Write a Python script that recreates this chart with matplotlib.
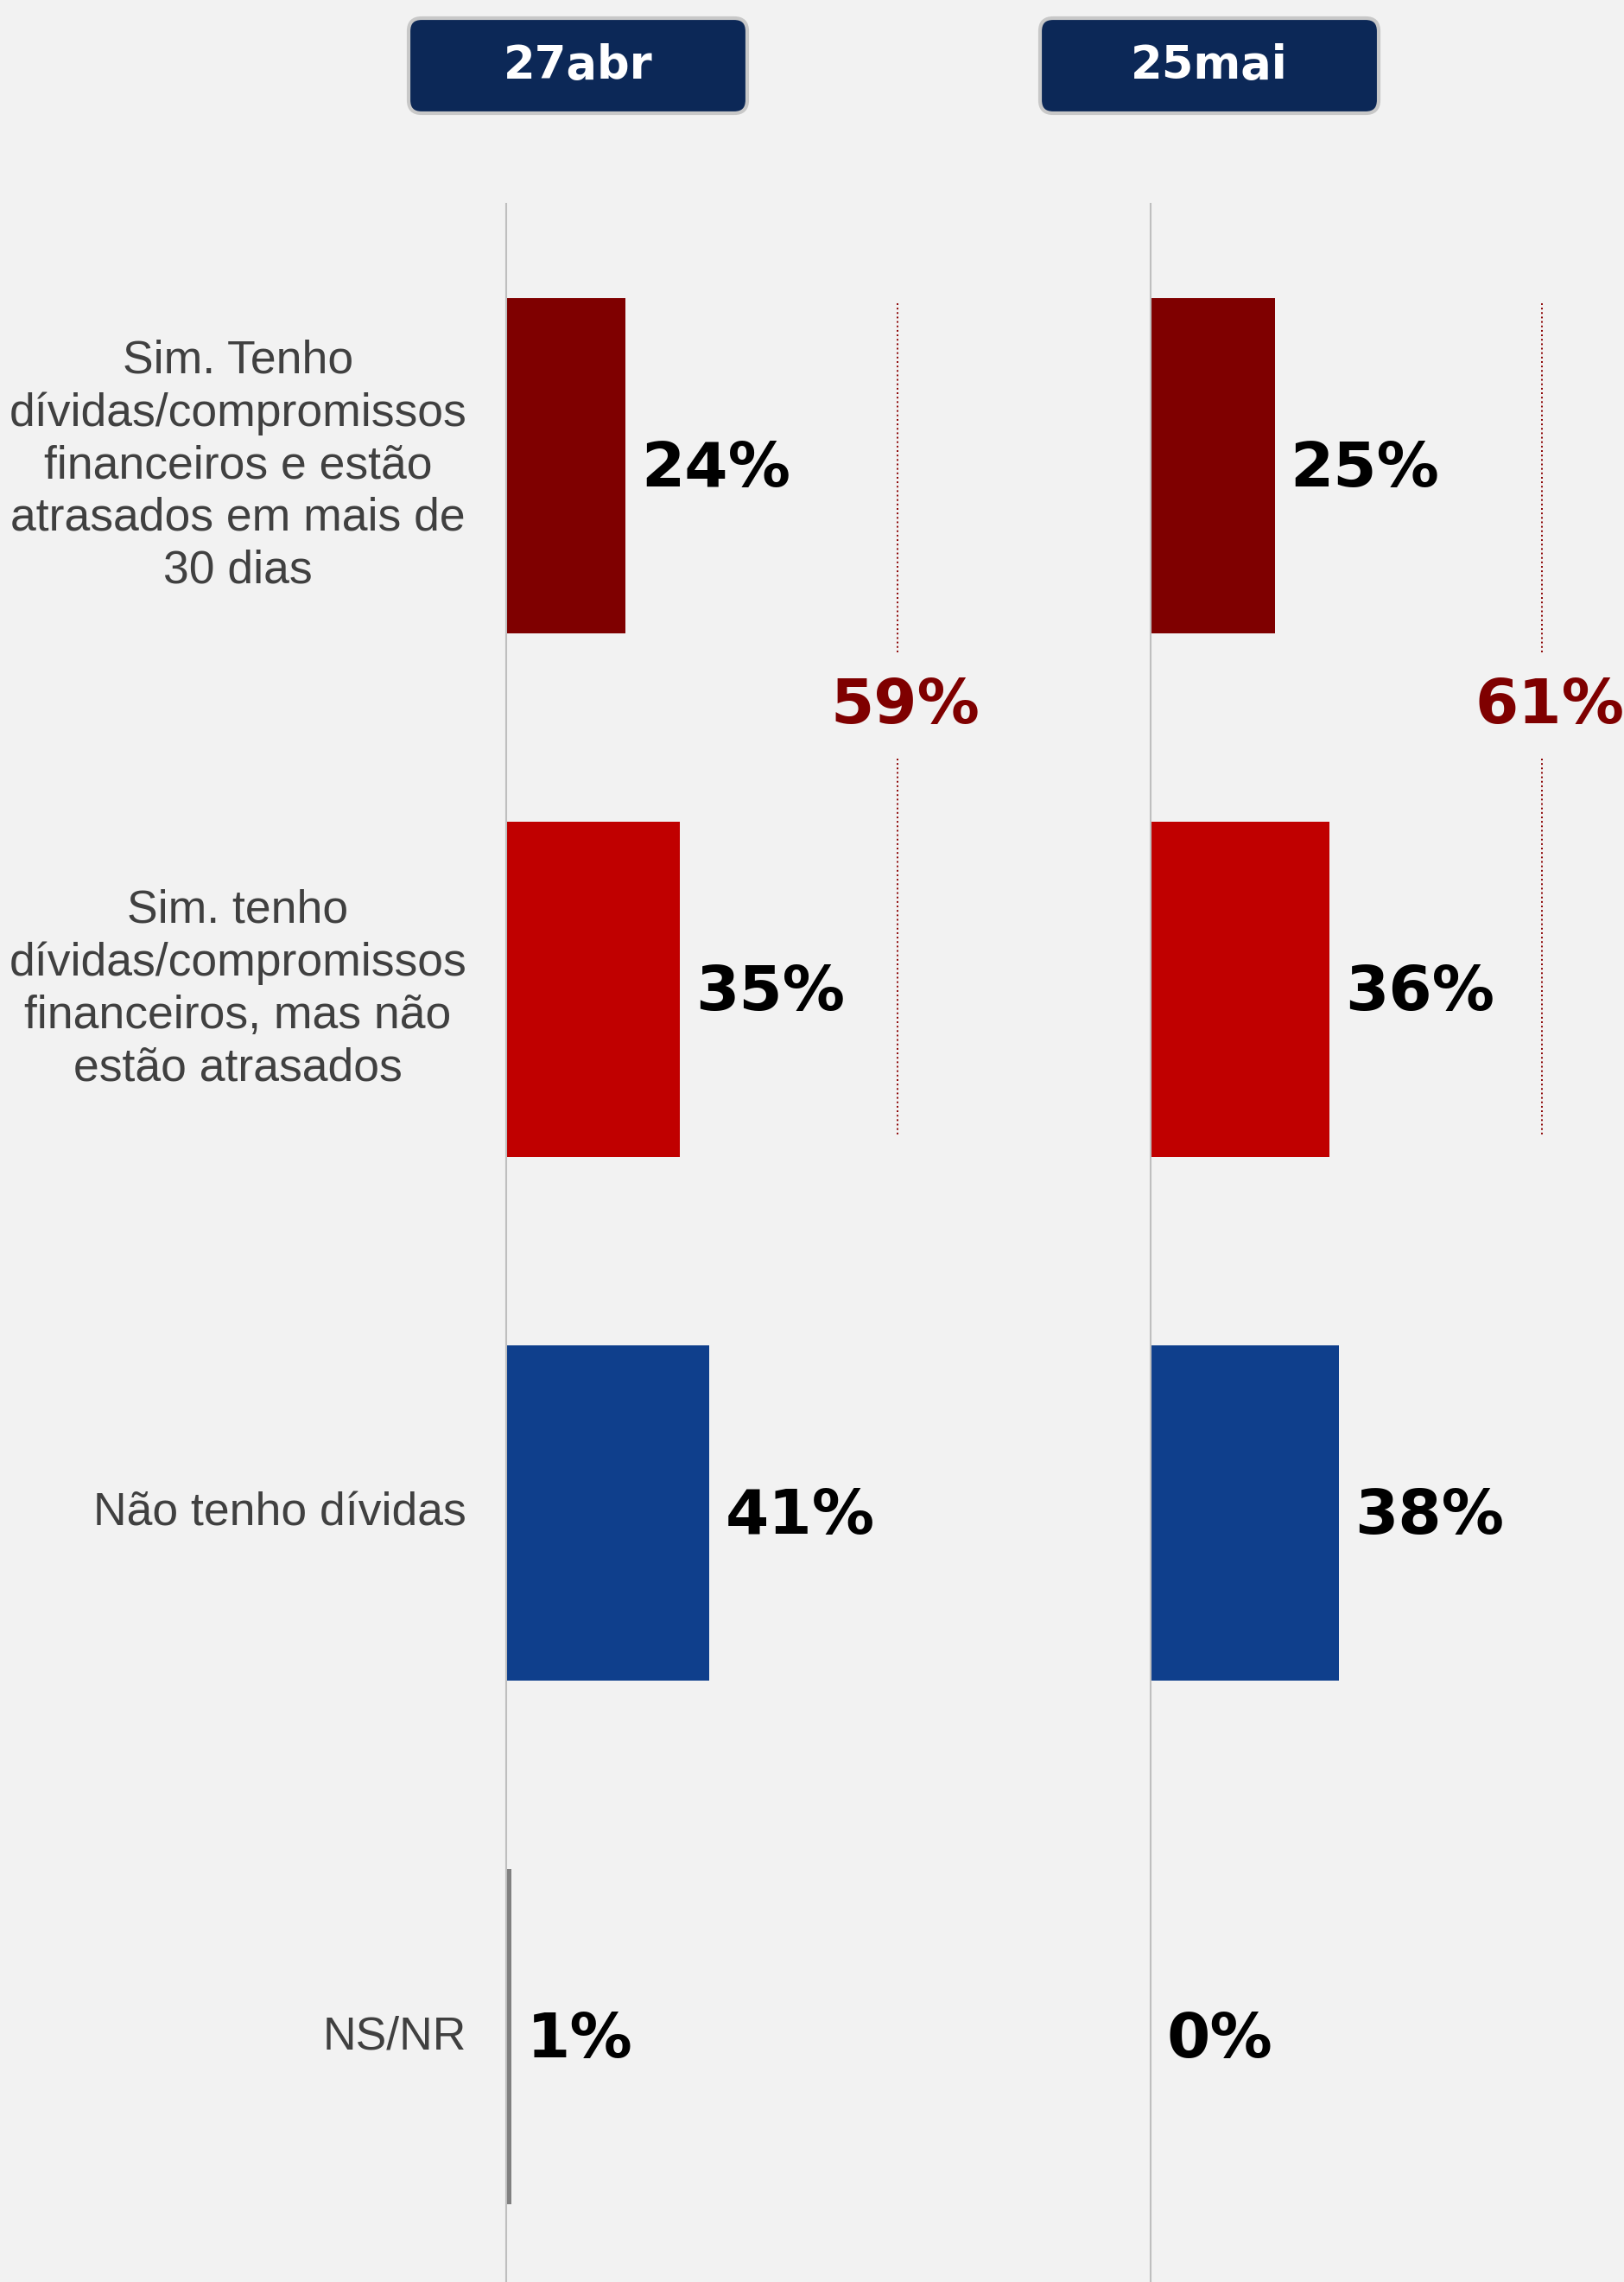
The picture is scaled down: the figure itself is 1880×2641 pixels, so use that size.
import numpy as np
import matplotlib
matplotlib.use("Agg")
from matplotlib import pyplot as plt
from matplotlib.patches import FancyBboxPatch

# dados
categorias = [
    "Sim. Tenho\ndívidas/compromissos\nfinanceiros e estão\natrasados em mais de\n30 dias",
    "Sim. tenho\ndívidas/compromissos\nfinanceiros, mas não\nestão atrasados",
    "Não tenho dívidas",
    "NS/NR",
]
datas = ["27abr", "25mai"]
valores_abr = [24, 35, 41, 1]
valores_mai = [25, 36, 38, 0]
cores = ["#7F0000", "#C00000", "#0F3F8C", "#808080"]

W, H = 1881, 2641
fundo = "#F2F2F2"
fig = plt.figure(figsize=(W / 100, H / 100), dpi=100, facecolor=fundo)

fonte_num = "DejaVu Sans"
px_por_pct = 5.74
topo = 236
passo = 606


def painel(x0, valores, mostrar_rotulos):
    largura = 100 * px_por_pct
    ax = fig.add_axes([x0 / W, 0, largura / W, (H - topo) / H])
    ax.set_facecolor("none")
    ax.set_xlim(0, 100)
    ax.set_ylim(-0.5 + (H - topo) / passo, -0.5)
    y = np.arange(len(valores))
    ax.barh(y, valores, height=0.64, color=cores, edgecolor="none")
    for i, v in enumerate(valores):
        ax.annotate(f"{v}%", xy=(v, i), xytext=(13, -3), textcoords="offset points",
                    ha="left", va="center", fontsize=52, fontweight="bold",
                    family=fonte_num, color="black")
    if mostrar_rotulos:
        for i, c in enumerate(categorias):
            ax.annotate(c, xy=(0, i), xytext=(-33, 0), textcoords="offset points",
                        ha="right", va="center", multialignment="center",
                        fontsize=38.5, family="Liberation Sans", color="#404040",
                        linespacing=1.27, annotation_clip=False)
    # total das duas primeiras categorias
    total = valores[0] + valores[1]
    ax.plot([79, 79], [-0.31, 0.36], ls=":", lw=1.4, color="#8B0000")
    ax.plot([79, 79], [0.56, 1.28], ls=":", lw=1.4, color="#8B0000")
    ax.text(80.5, 0.46, f"{total}%", ha="center", va="center", fontsize=52,
            fontweight="bold", family=fonte_num, color="#7F0000", clip_on=False)
    for s in ["top", "right", "bottom"]:
        ax.spines[s].set_visible(False)
    ax.spines["left"].set_color("#BFBFBF")
    ax.spines["left"].set_linewidth(1.5)
    ax.set_xticks([])
    ax.set_yticks([])
    return ax


painel(586, valores_abr, True)
painel(1332, valores_mai, False)

# caixas de data no topo
for cx, d in zip([669, 1400], datas):
    bw, bh = 392, 110
    caixa = FancyBboxPatch(((cx - bw / 2) / W, 1 - 131 / H), bw / W, bh / H,
                           boxstyle="round,pad=0,rounding_size=0.008",
                           transform=fig.transFigure, facecolor="#0C2857",
                           edgecolor="#C8C8C8", linewidth=3, mutation_aspect=W / H)
    fig.patches.append(caixa)
    fig.text(cx / W, 1 - 76 / H, d, ha="center", va="center", fontsize=38,
             fontweight="bold", family=fonte_num, color="white")

fig.savefig("out.png", dpi=100, facecolor=fundo)
